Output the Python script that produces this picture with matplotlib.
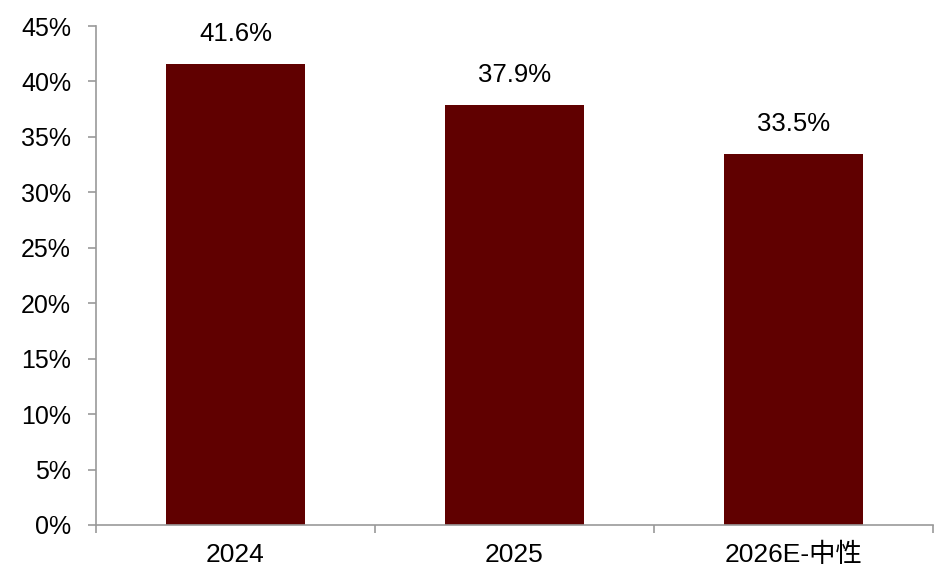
import matplotlib
matplotlib.use("Agg")
import matplotlib.pyplot as plt
import numpy as np

plt.rcParams['font.family'] = ['Liberation Sans', 'Noto Sans CJK SC', 'DejaVu Sans']
plt.rcParams['font.size'] = 18

categories = ["2024", "2025", "2026E-中性"]
values = [41.6, 37.9, 33.5]
yticks = [0, 5, 10, 15, 20, 25, 30, 35, 40, 45]

fig = plt.figure(figsize=(9.46, 5.79), dpi=100)
ax = fig.add_axes([0.1015, 0.0933, 0.8845, 0.8617])

x = np.arange(len(categories))
bars = ax.bar(x, values, width=0.5, color="#600000")

for b, v in zip(bars, values):
    ax.annotate(f"{v:.1f}%", (b.get_x() + b.get_width() / 2, v),
                xytext=(0, 16.5), textcoords="offset points",
                ha="center", va="baseline", fontsize=18.5)

ax.set_xlim(-0.5, len(categories) - 0.5)
ax.set_ylim(0, 45)
ax.set_yticks(yticks)
ax.set_yticklabels([f"{t}%" for t in yticks])

# category labels without ticks, ticks at boundaries
ax.set_xticks(x)
ax.set_xticklabels(categories)
ax.tick_params(axis="x", which="major", length=0, pad=13, labelsize=19)
ax.set_xticks(np.arange(-0.5, len(categories)), minor=True)
ax.tick_params(axis="x", which="minor", length=6, color="#999999", width=1.2)
ax.tick_params(axis="y", length=6, color="#999999", width=1.2, pad=12)

for s in ["top", "right"]:
    ax.spines[s].set_visible(False)
for s in ["left", "bottom"]:
    ax.spines[s].set_color("#999999")
    ax.spines[s].set_linewidth(1.2)

fig.savefig("out.png", dpi=100)
